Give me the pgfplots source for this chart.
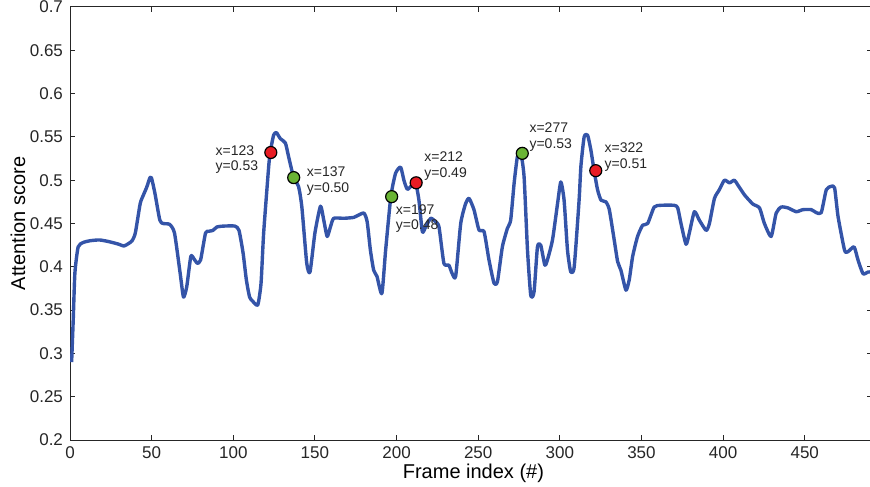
\documentclass[border=0pt]{standalone}
\usepackage{fontspec}
\setmainfont{Liberation Sans}
\usepackage{pgfplots}
\pgfplotsset{compat=1.18}

\definecolor{lineblue}{RGB}{52,84,168}
\definecolor{mred}{RGB}{232,28,36}
\definecolor{mgreen}{RGB}{106,180,52}

\begin{document}
\begin{tikzpicture}
\path[use as bounding box] (-35pt,-23pt) rectangle (400pt,220pt);
\begin{axis}[
    scale only axis,
    width=401pt, height=216.5pt,
    xmin=0, xmax=491.2,
    ymin=0.2, ymax=0.7,
    xtick={0,50,...,450},
    ytick={0.2,0.25,...,0.71},
    tick align=inside,
    major tick length=2.5pt,
    axis line style={black!85, line width=0.5pt},
    every tick/.style={black!85, line width=0.5pt},
    tick label style={font=\fontsize{8.5}{10}\selectfont, text=black!85},
    /pgf/number format/.cd, fixed, precision=2, assume math mode=true,
    /pgfplots/.cd,
    xlabel={Frame index (\#)},
    ylabel={Attention score},
    label style={font=\fontsize{10.7}{12}\selectfont, text=black!85},
    every axis x label/.style={at={(axis description cs:0.503,-0.076)}, anchor=center},
    every axis y label/.style={at={(axis description cs:-0.065,0.5)}, anchor=center, rotate=90},
    clip=true,
]
\addplot[lineblue, line width=1.7pt, smooth, tension=0.35, line join=round] coordinates {
(1,0.290) (2,0.340) (3,0.393) (5,0.423) (8,0.428) (12,0.430) (18,0.431) (24,0.429)
(30,0.426) (33,0.424) (36,0.427) (38,0.430) (40,0.439) (43,0.473) (45,0.483) (47,0.492)
(49,0.503) (50,0.502) (52,0.485) (55,0.454) (57,0.450) (61,0.449) (64,0.439) (67.5,0.392)
(69.5,0.365) (71.5,0.377) (74,0.412) (76,0.409) (78,0.404) (80,0.408) (83,0.439) (85,0.441)
(87.5,0.442) (90,0.446) (94,0.447) (101,0.447) (103.5,0.442) (106,0.416) (108,0.385) (110,0.365)
(112,0.360) (115,0.356) (117,0.381) (118.6,0.439) (121.7,0.516) (122.7,0.533) (124.7,0.552) (126.4,0.555)
(128.8,0.548) (131.9,0.543) (133.9,0.527) (137,0.503) (140,0.4925) (142,0.469) (145,0.404) (147,0.394)
(150,0.439) (153.4,0.470) (155.4,0.454) (157.5,0.435) (159.5,0.446) (161.5,0.456) (167.7,0.456) (173.8,0.457)
(176,0.459) (180,0.462) (182,0.452) (184,0.419) (186,0.396) (188,0.389) (191,0.369) (193.3,0.419)
(196.5,0.481) (199.4,0.508) (202.5,0.515) (204.5,0.500) (206.6,0.4895) (209.6,0.4945) (211.7,0.497) (213.7,0.477)
(215.8,0.4405) (217.8,0.446) (220.9,0.456) (223.9,0.452) (226,0.446) (229,0.404) (232,0.402) (234,0.3925)
(236.2,0.389) (239.3,0.450) (242.3,0.473) (244.4,0.479) (247.4,0.466) (250.5,0.4425) (253.6,0.4405) (256.6,0.408)
(259.7,0.381) (261.8,0.383) (264.8,0.423) (267.9,0.4445) (269.9,0.454) (272,0.4965) (274,0.527) (276.1,0.531)
(278.1,0.504) (280.2,0.419) (282.2,0.367) (284.2,0.371) (286.3,0.423) (288.3,0.425) (290.8,0.402) (292.4,0.408)
(295.5,0.431) (298.6,0.473) (300.6,0.498) (302.6,0.477) (304.7,0.419) (306.7,0.394) (308.8,0.400) (311.8,0.477)
(312.9,0.516) (314.9,0.550) (317,0.552) (319,0.535) (321,0.511) (323.1,0.489) (325.2,0.477) (328.2,0.475)
(330.3,0.466) (333.3,0.431) (335.4,0.406) (337.4,0.396) (340.5,0.373) (342.5,0.385) (344.6,0.412) (347.6,0.435)
(350.7,0.448) (353.8,0.450) (357.8,0.469) (361.9,0.471) (370.1,0.471) (372.2,0.468) (374.2,0.450) (377.3,0.426)
(379.3,0.439) (382.4,0.4636) (385.4,0.454) (389.6,0.442) (391.6,0.450) (394.7,0.479) (397.7,0.489) (400.8,0.500)
(403.9,0.497) (406.9,0.500) (409,0.4945) (413.1,0.483) (418.2,0.4725) (422.3,0.468) (425.3,0.450) (429.4,0.435)
(432.5,0.462) (435.6,0.469) (439.7,0.468) (444.8,0.4636) (448.9,0.466) (454,0.466) (457.1,0.4625) (460.1,0.4625)
(463.2,0.489) (466.3,0.493) (468.3,0.491) (470.4,0.458) (474.4,0.419) (476.5,0.4175) (480.2,0.423) (482.6,0.408)
(485.7,0.392) (488.8,0.394) (491.2,0.394)
};
\addplot[only marks, mark=*, mark size=3pt, mark options={fill=mred, draw=black, line width=0.6pt}] coordinates {
(123,0.532) (212,0.497) (322,0.511)
};
\addplot[only marks, mark=*, mark size=3pt, mark options={fill=mgreen, draw=black, line width=0.6pt}] coordinates {
(137,0.503) (197,0.481) (277,0.531)
};
\begin{scope}[every node/.style={font=\fontsize{7}{7.6}\selectfont, text=black!85, align=left, anchor=north west, inner sep=0pt}]
\node at (axis cs:89.0,0.5406) {x=123\\y=0.53};
\node at (axis cs:144.8,0.5156) {x=137\\y=0.50};
\node at (axis cs:199.4,0.4722) {x=197\\y=0.48};
\node at (axis cs:216.8,0.5329) {x=212\\y=0.49};
\node at (axis cs:281.2,0.5664) {x=277\\y=0.53};
\node at (axis cs:327.2,0.5433) {x=322\\y=0.51};
\end{scope}
\end{axis}
\end{tikzpicture}
\end{document}
